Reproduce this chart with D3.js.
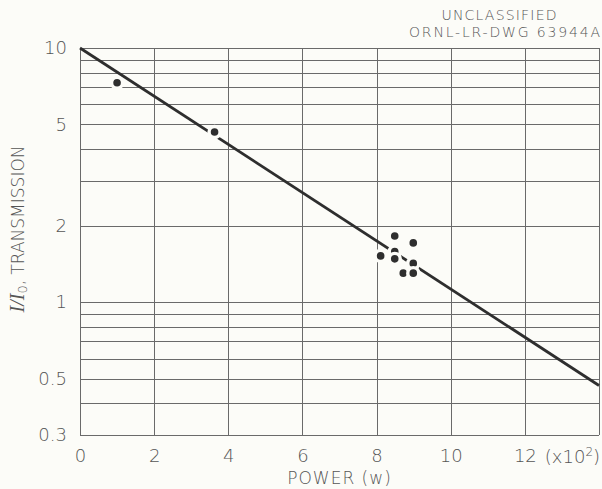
<!DOCTYPE html>
<html>
<head>
<meta charset="utf-8">
<script src="https://cdn.jsdelivr.net/npm/d3@7"></script>
<style>
  body { margin: 0; background: #fcfcf8; }
  svg { display: block; }
  text { font-family: "DejaVu Sans", sans-serif; fill: #555; }
</style>
</head>
<body>
<div id="chart"></div>
<script>
// measured points, power in units of 100 w
var powerVals = [1.0, 3.63, 8.49, 8.99, 8.11, 8.49, 8.49, 8.99, 8.72, 8.99];
var transVals = [7.3, 4.67, 1.82, 1.71, 1.52, 1.58, 1.48, 1.42, 1.30, 1.30];

// fitted line end points
var fitPower = [0, 14];
var fitTrans = [10, 0.47];

var xTicks = [0, 2, 4, 6, 8, 10, 12];
var xGrid = [0, 2, 4, 6, 8, 10, 12, 14];
var yTicks = [10, 5, 2, 1, 0.5, 0.3];
var yGrid = [10, 9, 8, 7, 6, 5, 4, 3, 2, 1, 0.9, 0.8, 0.7, 0.6, 0.5, 0.4, 0.3];

// set the dimensions and margins of the graph
var margin = {top: 48, right: 3, bottom: 54, left: 80},
    width = 602 - margin.left - margin.right,
    height = 489 - margin.top - margin.bottom;

var svg = d3.select("#chart")
  .append("svg")
  .attr("width", 602)
  .attr("height", 489);

var g = svg.append("g")
  .attr("transform", "translate(" + margin.left + "," + margin.top + ")");

var x = d3.scaleLinear().domain([0, 14]).range([0, width]);
var y = d3.scaleLog().domain([0.3, 10]).range([height, 0]);

// grid lines
g.append("g")
  .attr("class", "grid")
  .attr("transform", "translate(0," + height + ")")
  .call(d3.axisBottom(x).tickValues(xGrid).tickSize(-height).tickFormat(""));
g.append("g")
  .attr("class", "grid")
  .call(d3.axisLeft(y).tickValues(yGrid).tickSize(-width).tickFormat(""));
g.selectAll(".grid .domain").remove();
g.selectAll(".grid line")
  .attr("stroke", "#6a6a6a")
  .attr("stroke-width", 1)
  .attr("shape-rendering", "crispEdges");

// tick labels
g.append("g")
  .attr("transform", "translate(0," + height + ")")
  .call(d3.axisBottom(x).tickValues(xTicks).tickSize(0).tickPadding(14).tickFormat(d3.format("d")));
g.append("g")
  .call(d3.axisLeft(y).tickValues(yTicks).tickSize(0).tickPadding(13).tickFormat(function(d) { return d; }));
g.selectAll(".domain").remove();
g.selectAll(".tick text")
  .attr("font-size", 18)
  .attr("font-family", "DejaVu Sans")
  .attr("font-weight", 300)
  .attr("fill", "#4a4a4a");

// x multiplier label
var mult = g.append("text")
  .attr("x", x(12) + 20)
  .attr("y", height + 28)
  .attr("font-size", 18)
  .attr("font-weight", 300)
  .attr("fill", "#4a4a4a");
mult.append("tspan").text("(x10");
mult.append("tspan").attr("font-size", 12).attr("dy", -7).text("2");
mult.append("tspan").attr("dy", 7).text(")");

// fitted line
var line = d3.line()
  .x(function(d) { return x(d[0]); })
  .y(function(d) { return y(d[1]); });
g.append("path")
  .datum(d3.zip(fitPower, fitTrans))
  .attr("fill", "none")
  .attr("stroke", "#2e2e2e")
  .attr("stroke-width", 2.8)
  .attr("d", line);

// data points, with a halo that breaks the line
g.selectAll(".pt")
  .data(d3.zip(powerVals, transVals))
  .enter().append("circle")
  .attr("class", "pt")
  .attr("cx", function(d) { return x(d[0]); })
  .attr("cy", function(d) { return y(d[1]); })
  .attr("r", 5.5)
  .attr("fill", "#2e2e2e")
  .attr("stroke", "#fcfcf8")
  .attr("stroke-width", 3.4);

// axis titles
svg.append("text")
  .attr("x", margin.left + width / 2)
  .attr("y", 484)
  .attr("text-anchor", "middle")
  .attr("font-size", 17)
  .attr("font-weight", 300)
  .attr("letter-spacing", 1)
  .attr("fill", "#4a4a4a")
  .text("POWER (w)");

var yt = svg.append("text")
  .attr("transform", "translate(24,229) rotate(-90)")
  .attr("text-anchor", "middle")
  .attr("font-size", 17)
  .attr("font-weight", 300)
  .attr("fill", "#4a4a4a");
yt.append("tspan").attr("font-style", "italic").attr("font-family", "Liberation Serif").attr("font-size", 20).text("I/I");
yt.append("tspan").attr("font-size", 13).attr("dy", 3).text("0");
yt.append("tspan").attr("dy", -3).text(", TRANSMISSION");

// drawing number
svg.append("text")
  .attr("x", 499)
  .attr("y", 20)
  .attr("text-anchor", "middle")
  .attr("font-size", 14)
  .attr("font-weight", 300)
  .attr("fill", "#4a4a4a")
  .attr("textLength", 115)
  .attr("lengthAdjust", "spacing")
  .text("UNCLASSIFIED");
svg.append("text")
  .attr("x", 409)
  .attr("y", 37)
  .attr("font-size", 14)
  .attr("font-weight", 300)
  .attr("fill", "#4a4a4a")
  .attr("textLength", 191)
  .attr("lengthAdjust", "spacing")
  .text("ORNL-LR-DWG 63944A");
</script>
</body>
</html>
